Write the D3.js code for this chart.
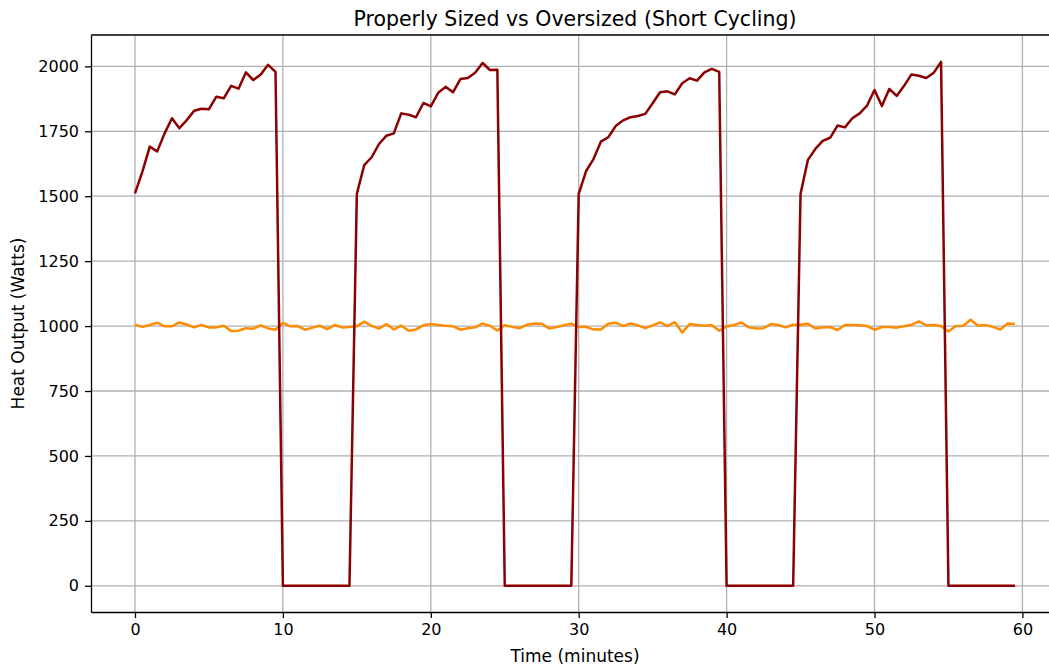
<!DOCTYPE html>
<html>
  <head>
    <meta charset="utf-8">
    <title>Properly Sized vs Oversized</title>
    <style>
      body { margin: 0; background: #fff; }
      text { font-family: "DejaVu Sans", sans-serif; fill: #000; }
    </style>
  </head>
  <body>
    <div id="container"></div>
    <script src="https://cdn.jsdelivr.net/npm/d3@7"></script>
    <script>
      // time axis: one sample every half minute, 0 .. 59.5
      var minutes = d3.range(0, 60, 0.5);

      // oversized unit: 10 min on, 5 min off
      var oversized = [
        1511, 1595, 1691, 1672, 1742, 1800, 1762, 1793, 1829, 1837,
        1835, 1883, 1877, 1925, 1914, 1977, 1947, 1969, 2006, 1979,
        0, 0, 0, 0, 0, 0, 0, 0, 0, 0,
        1509, 1620, 1650, 1701, 1733, 1742, 1819, 1814, 1804, 1859,
        1846, 1898, 1921, 1900, 1951, 1955, 1975, 2013, 1986, 1987,
        0, 0, 0, 0, 0, 0, 0, 0, 0, 0,
        1509, 1597, 1643, 1710, 1727, 1770, 1792, 1804, 1809, 1817,
        1858, 1900, 1904, 1892, 1935, 1954, 1945, 1977, 1990, 1979,
        0, 0, 0, 0, 0, 0, 0, 0, 0, 0,
        1509, 1640, 1682, 1713, 1725, 1772, 1765, 1800, 1819, 1849,
        1909, 1847, 1913, 1886, 1925, 1969, 1964, 1955, 1975, 2017,
        0, 0, 0, 0, 0, 0, 0, 0, 0, 0
      ];

      // properly sized unit: steady around 1000 W
      var properlySized = [
        1005, 997, 1004, 1013, 999, 999, 1014, 1006, 995, 1004,
        995, 995, 1001, 981, 982, 992, 990, 1003, 991, 986,
        1012, 999, 1000, 986, 994, 1001, 988, 1004, 995, 996,
        999, 1017, 1001, 990, 1008, 987, 1002, 982, 987, 1003,
        1008, 1004, 1001, 999, 986, 992, 995, 1010, 1001, 983,
        1003, 997, 992, 1005, 1010, 1009, 991, 996, 1003, 1009,
        996, 997, 987, 987, 1009, 1013, 1000, 1010, 1003, 992,
        1003, 1014, 1000, 1015, 975, 1008, 1004, 1001, 1003, 982,
        999, 1004, 1014, 995, 991, 992, 1008, 1004, 995, 1005,
        1005, 1009, 991, 995, 996, 985, 1004, 1004, 1003, 1000,
        986, 996, 996, 994, 999, 1005, 1018, 1003, 1004, 1000,
        979, 1000, 1001, 1024, 1001, 1004, 997, 987, 1010, 1008
      ];

      var xTicks = [0, 10, 20, 30, 40, 50, 60];
      var yTicks = [0, 250, 500, 750, 1000, 1250, 1500, 1750, 2000];

      var W = 1049, H = 667;
      var margin = {top: 35, right: -10, bottom: 55, left: 91};
      var width = W - margin.left - margin.right,
          height = H - margin.top - margin.bottom;

      var x = d3.scaleLinear().domain([-2.975, 62.475]).range([0, width]);
      var y = d3.scaleLinear().domain([-100.85, 2120.7]).range([height, 0]);

      var svg = d3.select("#container").append("svg")
          .attr("width", W)
          .attr("height", H)
        .append("g")
          .attr("transform", "translate(" + margin.left + "," + margin.top + ")");

      // grid
      svg.append("g").selectAll("line").data(xTicks).enter().append("line")
          .attr("x1", d => x(d)).attr("x2", d => x(d))
          .attr("y1", 0).attr("y2", height)
          .attr("stroke", "#b0b0b0").attr("stroke-width", 1.3);
      svg.append("g").selectAll("line").data(yTicks).enter().append("line")
          .attr("x1", 0).attr("x2", width)
          .attr("y1", d => y(d)).attr("y2", d => y(d))
          .attr("stroke", "#b0b0b0").attr("stroke-width", 1.3);

      var line = d3.line()
          .x(function(d) { return x(d[0]); })
          .y(function(d) { return y(d[1]); });

      svg.append("path")
          .datum(minutes.map((t, i) => [t, properlySized[i]]))
          .attr("d", line)
          .attr("fill", "none")
          .attr("stroke", "darkorange")
          .attr("stroke-width", 2.5)
          .attr("stroke-linejoin", "round");

      svg.append("path")
          .datum(minutes.map((t, i) => [t, oversized[i]]))
          .attr("d", line)
          .attr("fill", "none")
          .attr("stroke", "darkred")
          .attr("stroke-width", 2.5)
          .attr("stroke-linejoin", "round");

      // axes
      var xAxis = svg.append("g")
          .attr("transform", "translate(0," + height + ")")
          .call(d3.axisBottom(x).tickValues(xTicks).tickSize(6).tickSizeOuter(0).tickPadding(6).tickFormat(d => d));
      var yAxis = svg.append("g")
          .call(d3.axisLeft(y).tickValues(yTicks).tickSize(6).tickSizeOuter(0).tickPadding(6).tickFormat(d => d));
      [xAxis, yAxis].forEach(function(g) {
        g.select(".domain").attr("stroke", "#000").attr("stroke-width", 1.3);
        g.selectAll(".tick line").attr("stroke", "#000").attr("stroke-width", 1.3);
        g.selectAll(".tick text").attr("font-size", 16).attr("font-family", "DejaVu Sans");
      });

      // top spine
      svg.append("line")
          .attr("x1", 0).attr("x2", width).attr("y1", 0).attr("y2", 0)
          .attr("stroke", "#000").attr("stroke-width", 1.3);

      svg.append("text")
          .attr("x", width / 2).attr("y", -9)
          .attr("text-anchor", "middle")
          .attr("font-size", 20.5)
          .text("Properly Sized vs Oversized (Short Cycling)");

      svg.append("text")
          .attr("x", width / 2).attr("y", height + 50)
          .attr("text-anchor", "middle")
          .attr("font-size", 17)
          .text("Time (minutes)");

      svg.append("text")
          .attr("transform", "translate(" + (-67) + "," + (height / 2) + ") rotate(-90)")
          .attr("text-anchor", "middle")
          .attr("font-size", 17)
          .text("Heat Output (Watts)");
    </script>
  </body>
</html>
